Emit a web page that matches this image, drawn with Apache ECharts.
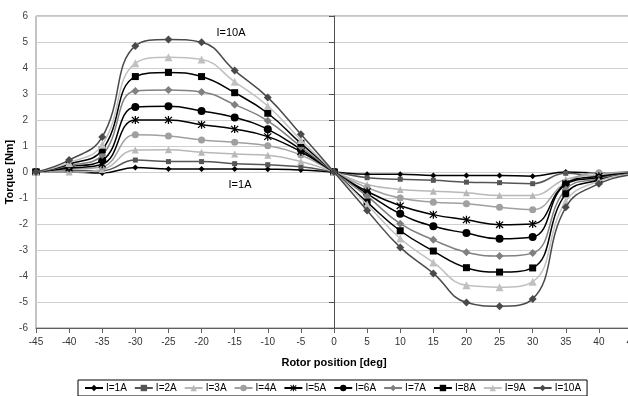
<!DOCTYPE html>
<html>
<head>
<meta charset="utf-8">
<script src="https://cdn.jsdelivr.net/npm/echarts@6/dist/echarts.min.js"></script>
<style>
html,body{margin:0;padding:0;background:#fff;}
#c{width:628px;height:396px;}
</style>
</head>
<body>
<div id="c"></div>
<script>
var positions = [-45,-40,-35,-30,-25,-20,-15,-10,-5,0,5,10,15,20,25,30,35,40,45];
var seriesNames = ['I=1A','I=2A','I=3A','I=4A','I=5A','I=6A','I=7A','I=8A','I=9A','I=10A'];
var I1  = [0, 0,    -0.04, 0.17, 0.12, 0.12, 0.12, 0.11, 0.08, 0, -0.09, -0.09, -0.13, -0.13, -0.13, -0.16, 0,     -0.03, 0];
var I2  = [0, 0.05, 0.05,  0.46, 0.40, 0.40, 0.32, 0.28, 0.20, 0, -0.22, -0.28, -0.32, -0.39, -0.41, -0.45, -0.05, -0.16, -0.01];
var I3  = [0, 0,    0.10,  0.85, 0.86, 0.76, 0.69, 0.64, 0.40, 0, -0.48, -0.67, -0.74, -0.80, -0.90, -0.90, -0.28, -0.10, -0.02];
var I4  = [0, 0.10, 0.20,  1.43, 1.38, 1.23, 1.14, 1.01, 0.65, 0, -0.60, -1.00, -1.16, -1.22, -1.36, -1.45, -0.41, -0.03, -0.03];
var I5  = [0, 0.15, 0.30,  2.00, 2.00, 1.82, 1.65, 1.36, 0.78, 0, -0.75, -1.30, -1.64, -1.84, -2.03, -2.00, -0.45, -0.16, -0.04];
var I6  = [0, 0.20, 0.45,  2.50, 2.53, 2.35, 2.10, 1.64, 0.87, 0, -0.83, -1.61, -2.09, -2.35, -2.57, -2.50, -0.48, -0.22, -0.05];
var I7  = [0, 0.25, 0.65,  3.12, 3.15, 3.08, 2.59, 1.97, 0.97, 0, -0.93, -1.99, -2.61, -3.09, -3.23, -3.12, -0.67, -0.26, -0.06];
var I8  = [0, 0.30, 0.85,  3.67, 3.83, 3.67, 3.05, 2.26, 1.10, 0, -1.16, -2.26, -3.04, -3.68, -3.85, -3.69, -0.84, -0.31, -0.07];
var I9  = [0, 0.35, 1.05,  4.18, 4.41, 4.33, 3.47, 2.54, 1.23, 0, -1.25, -2.56, -3.48, -4.36, -4.43, -4.22, -1.13, -0.35, -0.08];
var I10 = [0, 0.46, 1.35,  4.85, 5.10, 4.99, 3.90, 2.87, 1.45, 0, -1.48, -2.90, -3.90, -5.02, -5.16, -4.88, -1.36, -0.45, -0.10];
var allValues = [I1,I2,I3,I4,I5,I6,I7,I8,I9,I10];
var yTicks = [-6,-5,-4,-3,-2,-1,0,1,2,3,4,5,6];

var asterisk = 'path://M4.3,0h1.4v10h-1.4z M0.5,1.5L1.5,0.5L9.5,8.5L8.5,9.5z M8.5,0.5L9.5,1.5L1.5,9.5L0.5,8.5z';
var styles = [
  {color:'#000000', symbol:'diamond',  size:6},
  {color:'#555555', symbol:'rect',     size:5},
  {color:'#b8b8b8', symbol:'triangle', size:7},
  {color:'#a0a0a0', symbol:'circle',   size:7},
  {color:'#000000', symbol:asterisk,   size:8},
  {color:'#000000', symbol:'circle',   size:8},
  {color:'#808080', symbol:'diamond',  size:8},
  {color:'#000000', symbol:'rect',     size:7},
  {color:'#c0c0c0', symbol:'triangle', size:8},
  {color:'#4a4a4a', symbol:'diamond',  size:8}
];

var FONT = 'Liberation Sans, Arial, sans-serif';
var series = seriesNames.map(function(n, i){
  return {
    name: n,
    type: 'line',
    smooth: 0.45,
    symbol: styles[i].symbol,
    symbolSize: styles[i].size,
    showAllSymbol: true,
    lineStyle: {color: styles[i].color, width: 1.5},
    itemStyle: {color: styles[i].color, borderColor: styles[i].color, borderWidth: 0},
    data: positions.map(function(x, k){ return [x, allValues[i][k]]; }),
    z: 2 + i,
    animation: false
  };
});

var chart = echarts.init(document.getElementById('c'), null, {renderer:'canvas'});
chart.setOption({
  backgroundColor: '#ffffff',
  animation: false,
  grid: {left: 36, top: 16, right: -4, bottom: 68, outerBoundsMode: 'none', containLabel: false,
         show: true, borderColor: '#8a8a8a', borderWidth: 1, backgroundColor: 'transparent'},
  xAxis: {
    type: 'value', min: -45, max: 45, interval: 5,
    axisLine: {onZero: false, lineStyle: {color: '#606060', width: 1}},
    axisTick: {show: true, length: 5, lineStyle: {color: '#606060'}},
    axisLabel: {color: '#333', fontSize: 10, fontFamily: FONT, margin: 9, showMaxLabel: true, showMinLabel: true},
    splitLine: {show: false},
    name: 'Rotor position [deg]', nameLocation: 'middle', nameGap: 29,
    nameTextStyle: {color: '#000', fontSize: 11, fontWeight: 'bold', fontFamily: FONT}
  },
  yAxis: {
    type: 'value', min: yTicks[0], max: yTicks[yTicks.length-1], interval: 1,
    axisLine: {onZero: true, lineStyle: {color: '#505050', width: 1}},
    axisTick: {show: true, length: 5, lineStyle: {color: '#505050'}},
    axisLabel: {color: '#404040', fontSize: 10, fontFamily: FONT, margin: 8},
    splitLine: {show: true, lineStyle: {color: '#cfcfcf', width: 1}}
  },
  legend: {
    data: seriesNames,
    left: 78, top: 380,
    orient: 'horizontal',
    borderColor: '#000', borderWidth: 1,
    padding: [3, 6, 3, 6],
    itemGap: 7, itemWidth: 18, itemHeight: 8,
    textStyle: {color: '#000', fontSize: 10, fontFamily: FONT, padding: [0,0,0,-2]}
  },
  graphic: [
    {type:'text', x: 10, y: 172, rotation: Math.PI/2,
     style:{text:'Torque [Nm]', fill:'#000', font:'bold 11px Liberation Sans, Arial, sans-serif', align:'center', verticalAlign:'middle'}},
    {type:'text', x: 231, y: 33,
     style:{text:'I=10A', fill:'#000', font:'11px Liberation Sans, Arial, sans-serif', align:'center', verticalAlign:'middle'}},
    {type:'text', x: 240, y: 185,
     style:{text:'I=1A', fill:'#000', font:'11px Liberation Sans, Arial, sans-serif', align:'center', verticalAlign:'middle'}}
  ],
  series: series
});
</script>
</body>
</html>
